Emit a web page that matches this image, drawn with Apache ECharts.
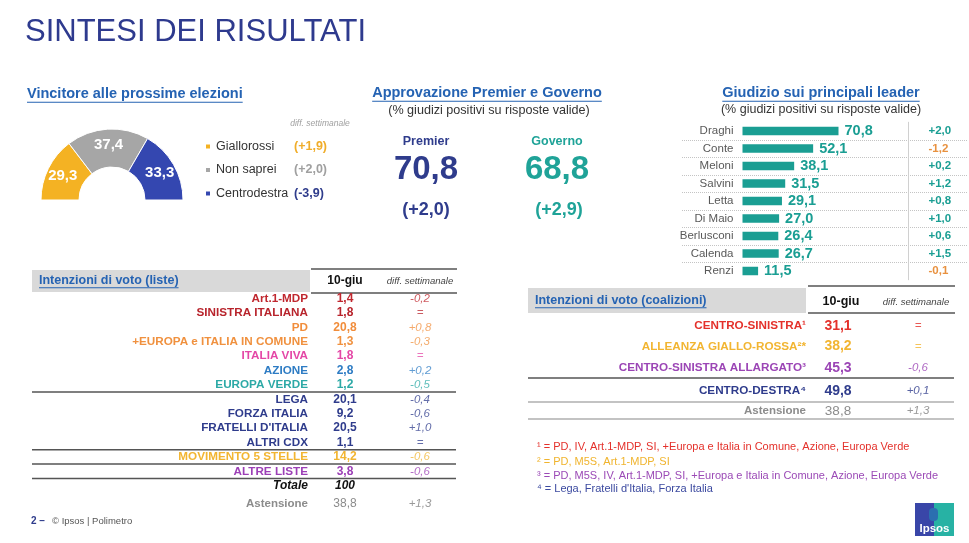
<!DOCTYPE html>
<html><head><meta charset="utf-8">
<script src="https://cdn.jsdelivr.net/npm/echarts@6/dist/echarts.min.js"></script>
<style>html,body{margin:0;padding:0;background:#fff}#c{width:969px;height:543px}</style>
</head><body><div id="c"></div>
<script>
const FONT = "'Liberation Sans', Arial, sans-serif";

// ---------- DATA ----------
const pageTitle = 'SINTESI DEI RISULTATI';

const winnerNames = ['Giallorossi', 'Non saprei', 'Centrodestra'];
const winnerValues = [29.3, 37.4, 33.3];
const winnerDiffs = [1.9, 2.0, -3.9];

const approvalLabels = ['Premier', 'Governo'];
const approvalValues = [70.8, 68.8];
const approvalDiffs = [2.0, 2.9];

const leaderNames = ['Draghi', 'Conte', 'Meloni', 'Salvini', 'Letta', 'Di Maio', 'Berlusconi', 'Calenda', 'Renzi'];
const leaderValues = [70.8, 52.1, 38.1, 31.5, 29.1, 27.0, 26.4, 26.7, 11.5];
const leaderDiffs = [2.0, -1.2, 0.2, 1.2, 0.8, 1.0, 0.6, 1.5, -0.1];

const listNames = ['Art.1-MDP', 'SINISTRA ITALIANA', 'PD', '+EUROPA e ITALIA IN COMUNE', 'ITALIA VIVA', 'AZIONE', 'EUROPA VERDE',
  'LEGA', 'FORZA ITALIA', "FRATELLI D'ITALIA", 'ALTRI CDX', 'MOVIMENTO 5 STELLE', 'ALTRE LISTE'];
const listValues = [1.4, 1.8, 20.8, 1.3, 1.8, 2.8, 1.2, 20.1, 9.2, 20.5, 1.1, 14.2, 3.8];
const listDiffs = [-0.2, 0, 0.8, -0.3, 0, 0.2, -0.5, -0.4, -0.6, 1.0, 0, -0.6, -0.6];
const listTotal = 100;
const listAbstention = 38.8;
const listAbstentionDiff = 1.3;

const coalNames = ['CENTRO-SINISTRA¹', 'ALLEANZA GIALLO-ROSSA²*', 'CENTRO-SINISTRA ALLARGATO³', 'CENTRO-DESTRA⁴'];
const coalValues = [31.1, 38.2, 45.3, 49.8];
const coalDiffs = [0, 0, -0.6, 0.1];
const coalAbstention = 38.8;
const coalAbstentionDiff = 1.3;

const footnotes = [
  '¹ = PD, IV, Art.1-MDP, SI, +Europa e Italia in Comune, Azione, Europa Verde',
  '² = PD, M5S, Art.1-MDP, SI',
  '³ = PD, M5S, IV, Art.1-MDP, SI, +Europa e Italia in Comune, Azione, Europa Verde',
  '⁴ = Lega, Fratelli d\'Italia, Forza Italia'
];

// ---------- STYLES ----------
const NAVY = '#2f3c8c', BLUE = '#2563b3', TEAL = '#1a9e93';
const winnerColors = ['#f4b223', '#a6a6a6', '#3447b0'];
const winnerDiffColors = ['#f0ad2a', '#a0a0a0', '#2f3c8c'];
const listColors = ['#c0282f', '#b8242c', '#f18d3b', '#f0913f', '#e447a6', '#2e7cc4', '#2ca9a6',
  NAVY, NAVY, NAVY, NAVY, '#f2b531', '#9c3fb6'];
const coalColors = ['#e4312b', '#f2b531', '#9b45b5', NAVY];
const footColors = ['#e4312b', '#f0b42e', '#9b4ab6', '#3c4aa0'];

function fmt(v) { return v.toFixed(1).replace('.', ','); }
function fmtDiff(v) { return v === 0 ? '=' : (v > 0 ? '+' : '-') + Math.abs(v).toFixed(1).replace('.', ','); }
function lighten(hex, a) {
  const n = parseInt(hex.slice(1), 16);
  const r = n >> 16, g = (n >> 8) & 255, b = n & 255;
  const f = c => Math.round(c + (255 - c) * a);
  return 'rgb(' + f(r) + ',' + f(g) + ',' + f(b) + ')';
}

const mctx = document.createElement('canvas').getContext('2d');
function textW(t, weight, size) { mctx.font = weight + ' ' + size + 'px ' + FONT; return mctx.measureText(t).width; }

function txt(x, y, text, o) {
  return { type: 'text', x: x, y: y, silent: true, z: 10,
    style: Object.assign({ text: text, fontFamily: FONT, fontSize: 12, fill: '#333', align: 'left', verticalAlign: 'middle' }, o) };
}
function line(x1, y1, x2, y2, color, w, dash) {
  return { type: 'line', silent: true, z: 5, shape: { x1: x1, y1: y1, x2: x2, y2: y2 }, style: { stroke: color, lineWidth: w || 1, lineDash: dash || null } };
}
function rect(x, y, w, h, fill, extra) {
  return Object.assign({ type: 'rect', silent: true, z: 1, shape: { x: x, y: y, width: w, height: h }, style: { fill: fill } }, extra || {});
}
function heading(x, y, text, size, align, color) {
  const w = textW(text, 'bold', size);
  const x0 = align === 'center' ? x - w / 2 : x;
  return [txt(x, y, text, { fontWeight: 'bold', fontSize: size, fill: color || BLUE, align: align || 'left' }),
    line(x0, y + size * 0.5 + 1, x0 + w, y + size * 0.5 + 1, color || BLUE, 1)];
}

const g = [];
// title
g.push(txt(25, 32, pageTitle, { fontSize: 31, fill: '#2e3a8e' }));

// section 1
g.push(...heading(27, 94, 'Vincitore alle prossime elezioni', 14.5, 'left'));
g.push(txt(320, 124, 'diff. settimanale', { fontSize: 8.5, fontStyle: 'italic', fill: '#a0a0a0', align: 'center' }));

// section 2
g.push(...heading(487, 93, 'Approvazione Premier e Governo', 14.5, 'center'));
g.push(txt(489, 111, '(% giudizi positivi su risposte valide)', { fontSize: 12.6, fill: '#333', align: 'center' }));
const apX = [426, 557], apC = [NAVY, '#1fa398'];
approvalLabels.forEach((l, i) => {
  g.push(txt(apX[i], 142, l, { fontWeight: 'bold', fontSize: 12.5, fill: apC[i], align: 'center' }));
  g.push(txt(apX[i], 170, fmt(approvalValues[i]), { fontWeight: 'bold', fontSize: 33, fill: apC[i], align: 'center' }));
  g.push(txt(apX[i] + i * 2, 210, '(' + fmtDiff(approvalDiffs[i]) + ')', { fontWeight: 'bold', fontSize: 18, fill: apC[i], align: 'center' }));
});

// section 3
g.push(...heading(821, 93, 'Giudizio sui principali leader', 14.5, 'center'));
g.push(txt(821, 110, '(% giudizi positivi su risposte valide)', { fontSize: 12.5, fill: '#333', align: 'center' }));

// table 1 (liste)
g.push(rect(32, 270, 278, 22, '#d9d9d9'));
g.push(...heading(39, 280.5, 'Intenzioni di voto (liste)', 12.5, 'left'));
g.push(line(311, 269, 457, 269, '#555', 1.5));
g.push(line(311, 293, 457, 293, '#555', 1.5));
g.push(txt(345, 280.5, '10-giu', { fontWeight: 'bold', fontSize: 12, fill: '#111', align: 'center' }));
g.push(txt(420, 281, 'diff. settimanale', { fontStyle: 'italic', fontSize: 9.5, fill: '#444', align: 'center' }));
const rowY = i => 298.5 + 14.4 * i;
listNames.forEach((n, i) => {
  const c = listColors[i];
  g.push(txt(308, rowY(i), n, { fontWeight: 'bold', fontSize: 11.7, fill: c, align: 'right' }));
  g.push(txt(345, rowY(i), fmt(listValues[i]), { fontWeight: 'bold', fontSize: 12, fill: c, align: 'center' }));
  g.push(txt(420, rowY(i), fmtDiff(listDiffs[i]), { fontStyle: 'italic', fontSize: 11.5, fill: lighten(c, 0.25), align: 'center' }));
});
[6, 10, 11, 12].forEach(i => g.push(line(32, rowY(i + 0.5), 456, rowY(i + 0.5), '#555', 1.5)));
g.push(txt(308, rowY(13), 'Totale', { fontWeight: 'bold', fontStyle: 'italic', fontSize: 12, fill: '#111', align: 'right' }));
g.push(txt(345, rowY(13), String(listTotal), { fontWeight: 'bold', fontStyle: 'italic', fontSize: 12, fill: '#111', align: 'center' }));
g.push(txt(308, 504, 'Astensione', { fontWeight: 'bold', fontSize: 11.5, fill: '#8c8c8c', align: 'right' }));
g.push(txt(345, 504, fmt(listAbstention), { fontSize: 12, fill: '#8c8c8c', align: 'center' }));
g.push(txt(420, 504, fmtDiff(listAbstentionDiff), { fontStyle: 'italic', fontSize: 11.5, fill: '#999', align: 'center' }));

// footer
g.push(txt(31, 521, '2 –', { fontWeight: 'bold', fontSize: 10, fill: NAVY }));
g.push(txt(52, 521, '© Ipsos | Polimetro', { fontSize: 9.5, fill: '#555' }));

// table 2 (coalizioni)
g.push(rect(528, 288, 278, 25, '#d9d9d9'));
g.push(...heading(535, 300.5, 'Intenzioni di voto (coalizioni)', 12.5, 'left'));
g.push(line(808, 286, 955, 286, '#555', 1.5));
g.push(line(808, 313, 955, 313, '#555', 1.5));
g.push(txt(841, 302, '10-giu', { fontWeight: 'bold', fontSize: 12.5, fill: '#111', align: 'center' }));
g.push(txt(916, 302, 'diff. settimanale', { fontStyle: 'italic', fontSize: 9.5, fill: '#444', align: 'center' }));
const coalY = [326, 346.5, 368, 391];
coalNames.forEach((n, i) => {
  const c = coalColors[i];
  g.push(txt(806, coalY[i], n, { fontWeight: 'bold', fontSize: 11.7, fill: c, align: 'right' }));
  g.push(txt(838, coalY[i], fmt(coalValues[i]), { fontWeight: 'bold', fontSize: 14, fill: c, align: 'center' }));
  g.push(txt(918, coalY[i], fmtDiff(coalDiffs[i]), { fontStyle: 'italic', fontSize: 11.5, fill: lighten(c, 0.2), align: 'center' }));
});
g.push(line(528, 378, 954, 378, '#555', 1.5));
g.push(line(528, 402, 954, 402, '#888', 1.2));
g.push(txt(806, 411, 'Astensione', { fontWeight: 'bold', fontSize: 11.5, fill: '#8c8c8c', align: 'right' }));
g.push(txt(838, 411, fmt(coalAbstention), { fontSize: 13.5, fill: '#8c8c8c', align: 'center' }));
g.push(txt(918, 411, fmtDiff(coalAbstentionDiff), { fontStyle: 'italic', fontSize: 11.5, fill: '#999', align: 'center' }));
g.push(line(528, 419, 954, 419, '#888', 1.2));

// footnotes
const footY = [447, 462, 476, 489];
footnotes.forEach((f, i) => g.push(txt(537, footY[i], f, { fontSize: 11, fill: footColors[i] })));

// Ipsos logo
g.push(rect(915, 503, 20, 33, '#3946a8', { z: 2 }));
g.push(rect(934, 503, 20, 33, '#27b2a4', { z: 2 }));
g.push({ type: 'rect', silent: true, z: 3, shape: { x: 929, y: 508, width: 9, height: 13, r: 4 }, style: { fill: '#2b6fb0' } });
g.push(txt(934.5, 529, 'Ipsos', { fontWeight: 'bold', fontSize: 11.5, fill: '#fff', align: 'center' }));

const chart = echarts.init(document.getElementById('c'), null, { renderer: 'canvas' });
chart.setOption({
  backgroundColor: '#fff',
  animation: false,
  legend: {
    orient: 'vertical', left: 204, top: 139.5, padding: 0, itemWidth: 6, itemHeight: 6, icon: 'rect', itemGap: 9.5,
    selectedMode: false, data: winnerNames,
    formatter: function (name) { const i = winnerNames.indexOf(name); return '{n|' + name + '}{d' + i + '|(' + fmtDiff(winnerDiffs[i]) + ')}'; },
    textStyle: {
      fontFamily: FONT, fontSize: 12.5, color: '#333', lineHeight: 14,
      rich: {
        n: { width: 78, fontSize: 12.5, color: '#333', fontFamily: FONT, lineHeight: 14 },
        d0: { fontSize: 12.5, fontWeight: 'bold', color: winnerDiffColors[0], fontFamily: FONT, lineHeight: 14 },
        d1: { fontSize: 12.5, fontWeight: 'bold', color: winnerDiffColors[1], fontFamily: FONT, lineHeight: 14 },
        d2: { fontSize: 12.5, fontWeight: 'bold', color: winnerDiffColors[2], fontFamily: FONT, lineHeight: 14 }
      }
    }
  },
  grid: [
    { left: 742.5, top: 122.25, width: 160, height: 157.5 },
    { left: 682, top: 122.25, width: 285, height: 157.5 }
  ],
  xAxis: [
    { gridIndex: 0, type: 'value', min: 0, max: 118, show: false },
    { gridIndex: 1, type: 'value', min: 0, max: 1, show: false }
  ],
  yAxis: [
    { gridIndex: 0, type: 'category', inverse: true, data: leaderNames,
      axisLine: { show: false }, axisTick: { show: false },
      axisLabel: { margin: 9, color: '#595959', fontSize: 11.5, fontFamily: FONT } },
    { gridIndex: 0, type: 'category', inverse: true, position: 'right', offset: 6, data: leaderDiffs.map(fmtDiff),
      axisLine: { show: true, lineStyle: { color: '#d0d0d0', width: 1 } }, axisTick: { show: false },
      axisLabel: { margin: 20, fontWeight: 'bold', fontSize: 11.5, fontFamily: FONT,
        color: function (v) { return String(v).charAt(0) === '-' ? '#e8913f' : TEAL; } } },
    { gridIndex: 1, type: 'category', inverse: true, data: leaderNames,
      axisLine: { show: false }, axisTick: { show: false }, axisLabel: { show: false },
      splitLine: { show: true, showMinLine: false, showMaxLine: false, lineStyle: { color: '#c4c4c4', type: 'dotted', width: 1 } } }
  ],
  series: [
    { type: 'pie', center: [112, 200], radius: [33, 71], startAngle: 180, endAngle: 0, silent: true,
      data: winnerNames.map((n, i) => ({ name: n, value: winnerValues[i], itemStyle: { color: winnerColors[i] } })),
      label: { show: true, position: 'inside', formatter: p => fmt(p.value), color: '#fff', fontWeight: 'bold', fontSize: 15, fontFamily: FONT },
      labelLine: { show: false }, itemStyle: { borderColor: '#fff', borderWidth: 1 } },
    { type: 'bar', xAxisIndex: 0, yAxisIndex: 0, data: leaderValues, barWidth: 8.5, silent: true,
      itemStyle: { color: TEAL },
      label: { show: true, position: 'right', distance: 6, formatter: p => fmt(p.value), color: TEAL, fontWeight: 'bold', fontSize: 14.5, fontFamily: FONT } }
  ],
  graphic: { elements: g }
});
</script>
</body></html>
